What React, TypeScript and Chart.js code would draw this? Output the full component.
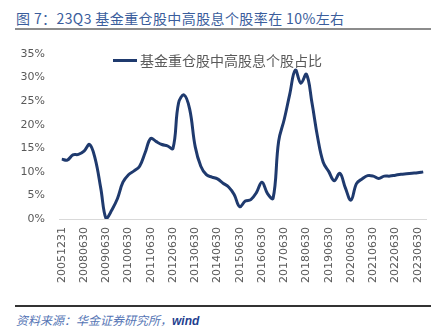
import React, { useEffect, useRef } from "react";
import { Chart, registerables } from "chart.js";

Chart.register(...registerables);

const TITLE = "图 7：23Q3 基金重仓股中高股息个股率在 10%左右";
const SERIES_NAME = "基金重仓股中高股息个股占比";
const SOURCE = "资料来源：华金证券研究所，";
const SOURCE_TAIL = "wind";

const categories: string[] = [
  "20051231", "20061231", "20071231", "20080331",
  "20080630", "20080930", "20081231", "20090331",
  "20090630", "20090930", "20091231", "20100331",
  "20100630", "20100930", "20101231", "20110331",
  "20110630", "20110930", "20111231", "20120331",
  "20120630", "20120930", "20121231", "20130331",
  "20130630", "20130930", "20131231", "20140331",
  "20140630", "20140930", "20141231", "20150331",
  "20150630", "20150930", "20151231", "20160331",
  "20160630", "20160930", "20161231", "20170331",
  "20170630", "20170930", "20171231", "20180331",
  "20180630", "20180930", "20181231", "20190331",
  "20190630", "20190930", "20191231", "20200331",
  "20200630", "20200930", "20201231", "20210331",
  "20210630", "20210930", "20211231", "20220331",
  "20220630", "20220930", "20221231", "20230331",
  "20230630", "20230930",
];

const highDividendShare: number[] = [
  12.7, 12.5, 13.6, 13.7,
  14.4, 15.8, 12.8, 6.6,
  0.0, 1.9, 4.3, 7.8,
  9.4, 10.2, 11.2, 14.1,
  17.1, 16.4, 15.8, 15.5,
  15.0, 24.6, 26.3, 23.3,
  15.3, 11.2, 9.4, 8.9,
  8.5, 7.6, 6.8, 5.2,
  2.6, 3.8, 4.1, 5.6,
  7.8, 5.4, 4.4, 16.5,
  21.1, 26.5, 31.6, 28.8,
  30.7, 24.6, 17.4, 12.1,
  10.1, 8.1, 9.7, 6.6,
  4.0, 7.5, 8.5, 9.2,
  9.1, 8.6, 9.1, 9.1,
  9.3, 9.5, 9.6, 9.7,
  9.8, 10.0,
];

const yMin = 0;
const yMax = 35;
const yStep = 5;

const LINE_COLOR = "#1f3a6e";
const TEXT_GRAY = "#595959";

export default function App() {
  const canvasRef = useRef<HTMLCanvasElement | null>(null);

  useEffect(() => {
    if (!canvasRef.current) return;
    const chart = new Chart(canvasRef.current, {
      type: "line",
      data: {
        labels: categories,
        datasets: [
          {
            label: SERIES_NAME,
            data: highDividendShare,
            borderColor: LINE_COLOR,
            backgroundColor: LINE_COLOR,
            borderWidth: 3,
            pointRadius: 0,
            pointHoverRadius: 0,
            tension: 0.4,
            fill: false,
          },
        ],
      },
      options: {
        animation: false,
        responsive: false,
        maintainAspectRatio: false,
        layout: { padding: { left: 0, right: 22, top: 54, bottom: 0 } },
        plugins: {
          legend: { display: false },
          tooltip: { enabled: false },
          title: { display: false },
        },
        scales: {
          x: {
            type: "category",
            offset: true,
            grid: { display: false, drawTicks: false },
            border: { display: true, color: "#d9d9d9", width: 1 },
            ticks: {
              autoSkip: false,
              maxRotation: 90,
              minRotation: 90,
              padding: 8,
              color: TEXT_GRAY,
              font: { family: "DejaVu Sans", size: 11 },
              callback: (_v: any, i: number) => (i % 4 === 0 ? categories[i] : ""),
            },
            afterFit: (s: any) => {
              s.height = 81;
            },
          },
          y: {
            min: yMin,
            max: yMax,
            grid: { display: false, drawTicks: false },
            border: { display: false },
            ticks: {
              stepSize: yStep,
              padding: 14,
              color: TEXT_GRAY,
              font: { family: "DejaVu Sans", size: 11 },
              callback: (v: any) => `${v}%`,
            },
            afterFit: (s: any) => {
              s.width = 59;
            },
          },
        },
      },
    });
    return () => chart.destroy();
  }, []);

  return (
    <div style={{ position: "absolute", left: 0, top: 0, width: 448, height: 335, background: "#fff" }}>
      <div
        style={{
          position: "absolute",
          left: 16,
          top: 9,
          fontFamily: "'Noto Sans CJK SC', 'Liberation Sans', sans-serif",
          fontSize: 14,
          lineHeight: "18px",
          letterSpacing: "0.4px",
          color: "#3a5d9c",
          whiteSpace: "nowrap",
        }}
      >
        {TITLE}
      </div>
      <div style={{ position: "absolute", left: 15, top: 28, width: 416, height: 2, background: "#8c8c8c" }} />
      <canvas
        ref={canvasRef}
        width={448}
        height={300}
        style={{ position: "absolute", left: 0, top: 0, width: 448, height: 300 }}
      />
      <div
        style={{
          position: "absolute",
          left: 113,
          top: 51,
          height: 18,
          display: "flex",
          alignItems: "center",
          whiteSpace: "nowrap",
        }}
      >
        <span style={{ display: "inline-block", width: 24, height: 3, background: LINE_COLOR, marginRight: 3 }} />
        <span
          style={{
            fontFamily: "'Noto Sans CJK SC', sans-serif",
            fontSize: 14,
            color: TEXT_GRAY,
            lineHeight: "18px",
          }}
        >
          {SERIES_NAME}
        </span>
      </div>
      <div style={{ position: "absolute", left: 15, top: 305, width: 416, height: 1.5, background: "#333" }} />
      <div
        style={{
          position: "absolute",
          left: 16,
          top: 312,
          fontFamily: "'Noto Sans CJK SC', sans-serif",
          fontSize: 12,
          lineHeight: "16px",
          fontStyle: "italic",
          color: "#5575b5",
          whiteSpace: "nowrap",
        }}
      >
        {SOURCE}
        <span style={{ fontFamily: "'Liberation Sans', sans-serif", fontWeight: "bold", color: "#1f3f8f" }}>
          {SOURCE_TAIL}
        </span>
      </div>
    </div>
  );
}
